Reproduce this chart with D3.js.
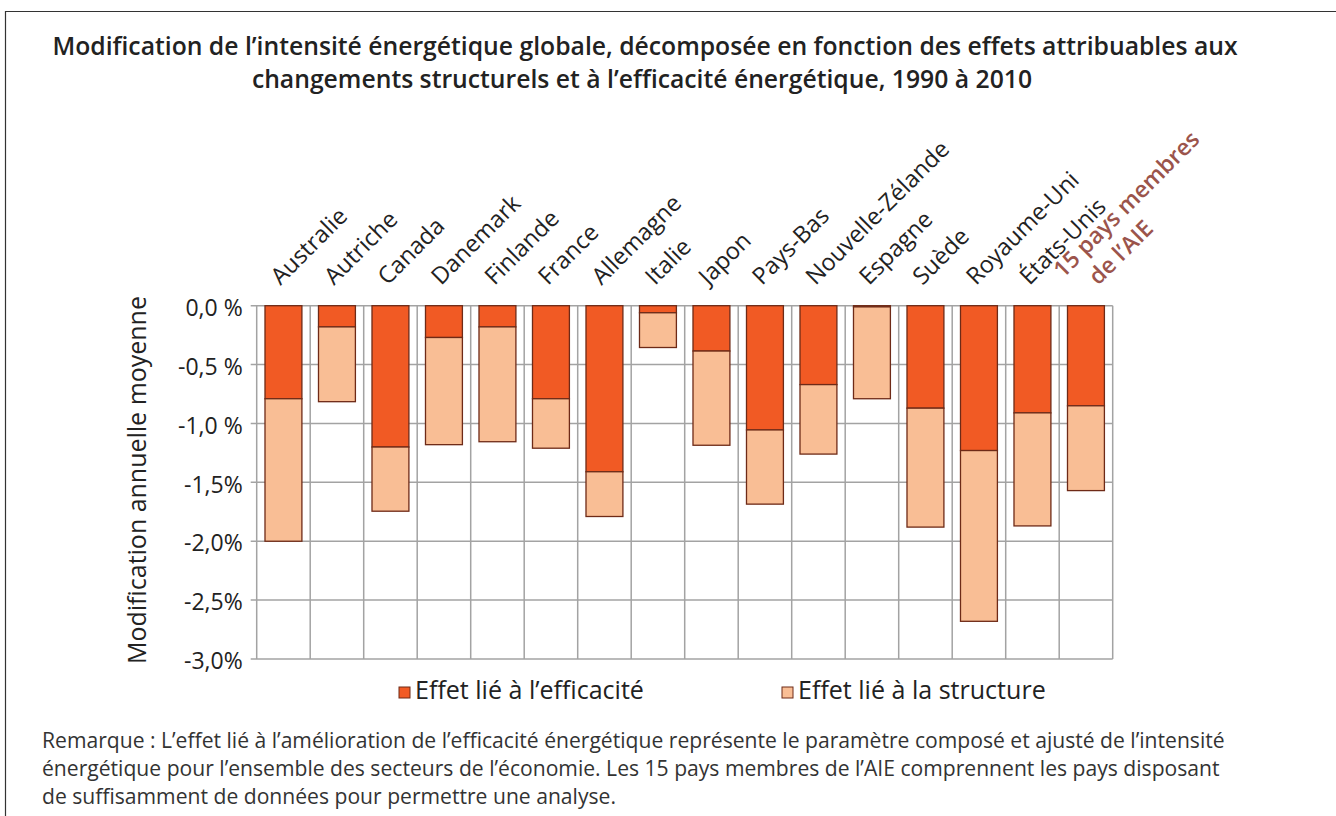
<!DOCTYPE html>
<html>
<head>
<meta charset="utf-8">
<script src="https://cdn.jsdelivr.net/npm/d3@7"></script>
<style>
  body { margin: 0; background: #fff; }
  svg { display: block; }
</style>
</head>
<body>
<div id="chart"></div>
<script>
// values (% per year)
var countries = ["Australie", "Autriche", "Canada", "Danemark", "Finlande", "France", "Allemagne", "Italie",
    "Japon", "Pays-Bas", "Nouvelle-Zélande", "Espagne", "Suède", "Royaume-Uni", "États-Unis", "IEA15"];
var efficiency = [-0.79, -0.18, -1.20, -0.27, -0.18, -0.79, -1.41, -0.06, -0.385, -1.055, -0.67, -0.01, -0.87, -1.23, -0.91, -0.85];
var structure = [-1.21, -0.635, -0.545, -0.91, -0.975, -0.42, -0.38, -0.295, -0.80, -0.63, -0.59, -0.78, -1.01, -1.45, -0.96, -0.72];
var tickValues = [0, -0.5, -1, -1.5, -2, -2.5, -3];
var tickLabels = ["0,0 %", "-0,5 %", "-1,0 %", "-1,5%", "-2,0%", "-2,5%", "-3,0%"];
var seriesNames = ["Effet lié à l’efficacité", "Effet lié à la structure"];

var width = 1336, height = 816;
var plot = { left: 256.7, right: 1112.7, top: 305.7, bottom: 659 };
var colors = { efficacite: "#f15a24", structure: "#f9be95" };
var sans = "'Open Sans', sans-serif";

// scale font-size of a text node so that it measures `target` px wide
function fitWidth(sel, target) {
    var node = sel.node();
    var fs = parseFloat(sel.attr("font-size"));
    var w = node.getComputedTextLength();
    sel.attr("font-size", (fs * target / w).toFixed(2));
}

var svg = d3.select("#chart")
    .append("svg")
    .attr("width", width)
    .attr("height", height);

// outer frame (top and left edges visible)
svg.append("path")
    .attr("d", "M5.5," + height + "V11.5H" + width)
    .attr("fill", "none")
    .attr("stroke", "#333")
    .attr("stroke-width", 1.2);

// title
var t1 = svg.append("text")
    .attr("x", 645).attr("y", 55)
    .attr("text-anchor", "middle")
    .attr("font-family", sans)
    .attr("font-weight", 600)
    .attr("font-size", 20)
    .attr("fill", "#222")
    .text("Modification de l’intensité énergétique globale, décomposée en fonction des effets attribuables aux");
fitWidth(t1, 1186);
svg.append("text")
    .attr("x", 642).attr("y", 88)
    .attr("text-anchor", "middle")
    .attr("font-family", sans)
    .attr("font-weight", 600)
    .attr("font-size", t1.attr("font-size"))
    .attr("fill", "#222")
    .text("changements structurels et à l’efficacité énergétique, 1990 à 2010");

var data = countries.map((c, i) => ({ country: c, efficacite: efficiency[i], structure: structure[i] }));

var x = d3.scaleBand()
    .domain(countries)
    .range([plot.left, plot.right])
    .padding(0);

var y = d3.scaleLinear()
    .domain([-3, 0])
    .range([plot.bottom, plot.top]);

var barW = x.bandwidth() * 0.69;
var barOff = (x.bandwidth() - barW) / 2;

// grid
var grid = svg.append("g").attr("stroke", "#a3a3a3").attr("stroke-width", 1.5);
grid.selectAll(".h")
    .data(tickValues)
    .enter()
    .append("line")
    .attr("x1", plot.left - 6)
    .attr("x2", plot.right)
    .attr("y1", d => y(d))
    .attr("y2", d => y(d));
grid.selectAll(".v")
    .data(countries.concat(["end"]))
    .enter()
    .append("line")
    .attr("x1", (d, i) => plot.left + i * x.step())
    .attr("x2", (d, i) => plot.left + i * x.step())
    .attr("y1", plot.top)
    .attr("y2", plot.bottom);

// y axis labels
var yAxis = d3.axisLeft(y)
    .tickValues(tickValues)
    .tickFormat((d, i) => tickLabels[i])
    .tickSize(0)
    .tickPadding(14);
var ya = svg.append("g")
    .attr("transform", "translate(" + plot.left + ",0)")
    .call(yAxis);
ya.select(".domain").remove();
ya.selectAll("text")
    .attr("font-family", sans)
    .attr("font-size", 23)
    .attr("fill", "#222")
    .attr("dy", "0.42em");

var ytitle = svg.append("text")
    .attr("transform", "translate(146,480) rotate(-90)")
    .attr("text-anchor", "middle")
    .attr("font-family", sans)
    .attr("font-size", 20)
    .attr("fill", "#222")
    .text("Modification annuelle moyenne");
fitWidth(ytitle, 368);

// stacked bars
var stack = d3.stack()
    .keys(["efficacite", "structure"])
    .offset(d3.stackOffsetDiverging);
var layers = stack(data);

svg.append("g")
    .selectAll("g")
    .data(layers)
    .enter()
    .append("g")
    .attr("fill", d => colors[d.key])
    .selectAll("rect")
    .data(d => d)
    .enter()
    .append("rect")
    .attr("x", d => x(d.data.country) + barOff)
    .attr("width", barW)
    .attr("y", d => y(d[1]))
    .attr("height", d => y(d[0]) - y(d[1]))
    .attr("stroke", "#6e2a17")
    .attr("stroke-width", 1.3);

// country labels
var labels = svg.append("g")
    .attr("font-family", sans)
    .attr("font-size", 23.5)
    .attr("fill", "#222");
labels.selectAll("text")
    .data(countries.slice(0, 15))
    .enter()
    .append("text")
    .attr("transform", d => "translate(" + (x(d) + x.bandwidth() / 2 - 3) + ",286) rotate(-45)")
    .text(d => d);

var aie = svg.append("text")
    .attr("transform", "translate(" + (x("IEA15") + x.bandwidth() / 2 - 23) + ",279) rotate(-45)")
    .attr("font-family", sans)
    .attr("font-weight", 600)
    .attr("font-size", 23)
    .attr("fill", "#9b544b");
aie.append("tspan").attr("x", 0).attr("y", 0).text("15 pays membres");
aie.append("tspan").attr("x", 20).attr("y", 30).text("de l’AIE");

// legend
var legend = svg.append("g")
    .attr("font-family", sans)
    .attr("fill", "#222");
var legendX = [399, 782];
legend.selectAll("rect")
    .data(["efficacite", "structure"])
    .enter()
    .append("rect")
    .attr("x", (d, i) => legendX[i])
    .attr("y", 687)
    .attr("width", 11)
    .attr("height", 11)
    .attr("fill", d => colors[d])
    .attr("stroke", "#6e2a17")
    .attr("stroke-width", 1);
var legendText = legend.selectAll("text")
    .data(seriesNames)
    .enter()
    .append("text")
    .attr("x", (d, i) => legendX[i] + 16)
    .attr("y", 699)
    .attr("font-size", 20)
    .text(d => d);
fitWidth(legendText.filter((d, i) => i === 0), 229);
legendText.filter((d, i) => i === 1).attr("font-size", legendText.filter((d, i) => i === 0).attr("font-size"));

// note
var note = svg.append("text")
    .attr("font-family", sans)
    .attr("font-size", 17)
    .attr("fill", "#333");
var noteLines = [
    "Remarque : L’effet lié à l’amélioration de l’efficacité énergétique représente le paramètre composé et ajusté de l’intensité",
    "énergétique pour l’ensemble des secteurs de l’économie. Les 15 pays membres de l’AIE comprennent les pays disposant",
    "de suffisamment de données pour permettre une analyse."
];
note.selectAll("tspan")
    .data(noteLines)
    .enter()
    .append("tspan")
    .attr("x", 42)
    .attr("y", (d, i) => 748 + i * 28)
    .text(d => d);
// size the note so its first line spans the same width as in the picture
var firstLine = note.select("tspan").node();
var fsNote = 17 * 1183 / firstLine.getComputedTextLength();
note.attr("font-size", fsNote.toFixed(2));
</script>
</body>
</html>
